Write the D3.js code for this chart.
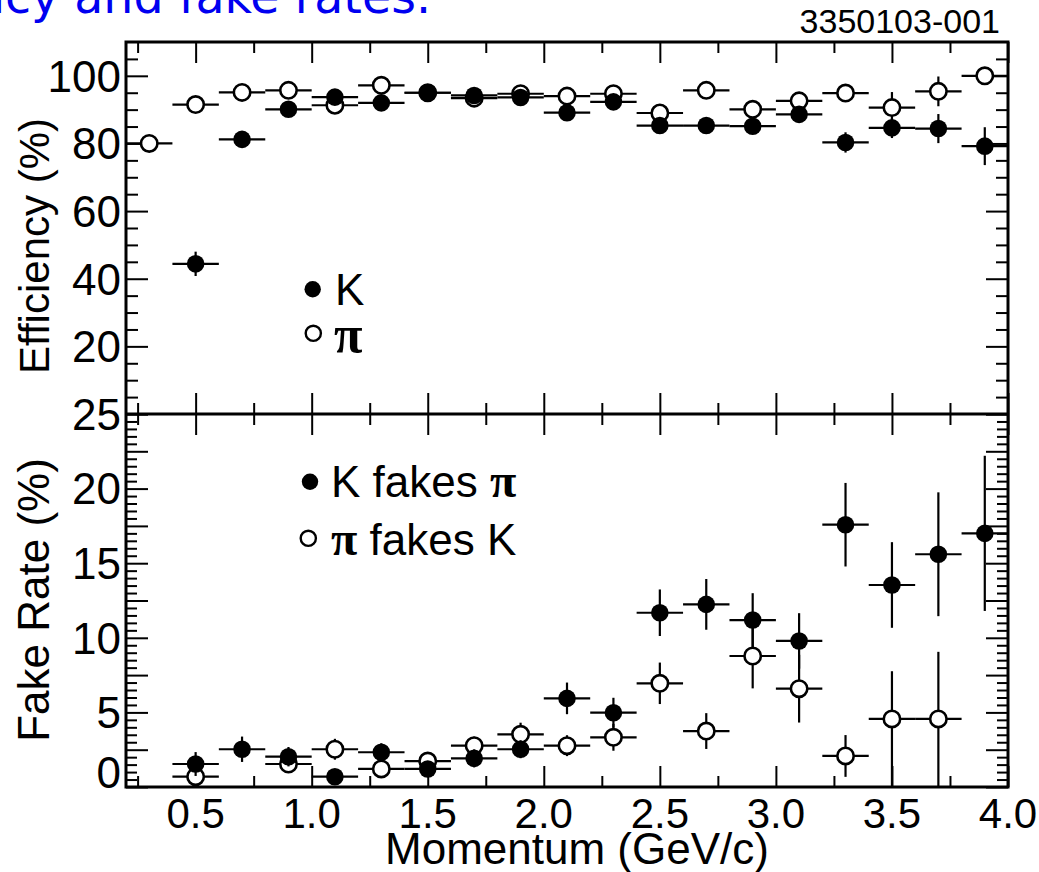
<!DOCTYPE html>
<html><head><meta charset="utf-8">
<script src="https://cdn.jsdelivr.net/npm/d3@7"></script>
<style>
body{margin:0;background:#fff}
svg{display:block;background:#fff}
text{font-family:"Liberation Sans",Arial,Helvetica,sans-serif;fill:#000}
</style>
</head><body>
<svg id="c" width="1039" height="872"></svg>
<script>
// ---- data ----
const momentum = [0.3,0.5,0.7,0.9,1.1,1.3,1.5,1.7,1.9,2.1,2.3,2.5,2.7,2.9,3.1,3.3,3.5,3.7,3.9];
const binHalfWidth = 0.1;

const kEff     = [null,44.4,81.2,90.1,93.7,92.0,95.0,94.2,93.6,89.1,92.3,85.3,85.3,85.1,88.6,80.3,84.6,84.4,79.2];
const kEffErr  = [null,3.6,1.0,1.2,1.0,1.0,1.0,1.0,1.0,1.2,1.2,1.5,1.5,1.8,2.0,3.0,3.0,4.3,5.6];
const piEff    = [80.0,91.5,95.1,95.7,91.3,97.2,95.0,93.4,94.7,94.0,94.7,89.0,95.7,90.1,92.6,94.9,90.6,95.4,100.0];
const piEffErr = [1,1,1,1,1,1,1,1,1,1,1,1.2,1.2,1.5,1.6,1.8,4.6,4.4,2.0];

const kFake     = [null,1.54,2.53,2.03,0.69,2.33,1.21,1.92,2.53,5.94,4.98,11.68,12.24,11.19,9.79,17.58,13.54,15.6,17.0];
const kFakeErr  = [null,0.8,0.85,0.65,0.5,0.6,0.5,0.6,0.6,1.06,1.0,1.56,1.7,1.8,1.86,2.8,2.87,4.15,5.2];
const piFake      = [null,0.69,null,1.54,2.53,1.21,1.74,2.77,3.53,2.77,3.33,6.95,3.75,8.78,6.59,2.08,4.56,4.56,null];
const piFakeErrUp = [null,0.8,null,0.6,0.7,0.5,0.5,0.6,0.78,0.7,0.9,1.39,1.2,2.17,2.27,1.4,3.2,4.5,null];
const piFakeErrDn = [null,0.8,null,0.6,0.7,0.5,0.5,0.6,0.78,0.7,0.9,1.39,1.2,2.17,2.27,1.4,5.0,4.5,null];

const xMajorTicks = [0.5,1.0,1.5,2.0,2.5,3.0,3.5,4.0];
const xMinorTicks = [0.25,0.75,1.25,1.75,2.25,2.75,3.25,3.75];
const xTickLabels = ["0.5","1.0","1.5","2.0","2.5","3.0","3.5","4.0"];
const effLabels  = [100,80,60,40,20];
const fakeLabels = [25,20,15,10,5,0];

const titleText = "Efficiency and fake rates.";
const figId = "3350103-001";

// ---- layout ----
const L = 126, R = 1008, T = 42, MID = 414, B = 787;
const svg = d3.select("#c");
svg.append("rect").attr("width",1039).attr("height",872).attr("fill","#fff");

const x = d3.scaleLinear().domain([0.2,4.0]).range([L,R]);
const yTop = d3.scaleLinear().domain([0,110]).range([MID,T]);
const yBot = d3.scaleLinear().domain([0,25]).range([B,MID]);

const defs = svg.append("defs");
defs.append("clipPath").attr("id","clipTop").append("rect").attr("x",L).attr("y",T).attr("width",R-L).attr("height",MID-T);
defs.append("clipPath").attr("id","clipBot").append("rect").attr("x",L).attr("y",MID).attr("width",R-L).attr("height",B-MID);

// ---- axes ticks ----
function drawTicks(axisGen, transform, size, values){
  const g = svg.append("g").attr("transform",transform)
    .call(axisGen.tickValues(values).tickSize(size).tickFormat(""));
  g.select(".domain").remove();
  g.selectAll(".tick line").attr("stroke","#000").attr("stroke-width",2);
  return g;
}
[[T,"top"],[MID,"bottom"],[MID,"top"],[B,"bottom"]].forEach(([yy,side])=>{
  const gen = side==="top" ? d3.axisTop(x) : d3.axisBottom(x);
  drawTicks(gen, `translate(0,${yy})`, -21, xMajorTicks);
  const gen2 = side==="top" ? d3.axisTop(x) : d3.axisBottom(x);
  drawTicks(gen2, `translate(0,${yy})`, -11, xMinorTicks);
});
const effMajor = d3.range(0,101,20);
const effMinor = d3.range(5,110,5).filter(v=>v%20!==0);
drawTicks(d3.axisLeft(yTop), `translate(${L},0)`, -22, effMajor);
drawTicks(d3.axisLeft(yTop), `translate(${L},0)`, -12, effMinor);
drawTicks(d3.axisRight(yTop), `translate(${R},0)`, -22, effMajor);
drawTicks(d3.axisRight(yTop), `translate(${R},0)`, -12, effMinor);
const fakeMajor = d3.range(0,25.01,2.5);
const fakeMinor = d3.range(0.5,25,0.5).filter(v=>Math.abs(v/2.5-Math.round(v/2.5))>1e-6);
drawTicks(d3.axisLeft(yBot), `translate(${L},0)`, -22, fakeMajor);
drawTicks(d3.axisLeft(yBot), `translate(${L},0)`, -11, fakeMinor);
drawTicks(d3.axisRight(yBot), `translate(${R},0)`, -22, fakeMajor);
drawTicks(d3.axisRight(yBot), `translate(${R},0)`, -11, fakeMinor);

// ---- data drawing ----
const R_MARK = 8.2;
function drawSeries(clipId, yScale, vals, errUp, errDn, filled){
  const g = svg.append("g").attr("clip-path",`url(#${clipId})`);
  const pts = momentum.map((m,i)=>({m, v:vals[i], up:errUp[i], dn:errDn[i]})).filter(d=>d.v!==null);
  g.selectAll("line.h").data(pts).enter().append("line")
    .attr("x1",d=>x(d.m-binHalfWidth)).attr("x2",d=>x(d.m+binHalfWidth))
    .attr("y1",d=>yScale(d.v)).attr("y2",d=>yScale(d.v))
    .attr("stroke","#000").attr("stroke-width",2.2);
  g.selectAll("line.v").data(pts).enter().append("line")
    .attr("x1",d=>x(d.m)).attr("x2",d=>x(d.m))
    .attr("y1",d=>yScale(d.v+d.up)).attr("y2",d=>yScale(d.v-d.dn))
    .attr("stroke","#000").attr("stroke-width",2.2);
  g.selectAll("circle").data(pts).enter().append("circle")
    .attr("cx",d=>x(d.m)).attr("cy",d=>yScale(d.v))
    .attr("r", filled ? R_MARK+0.6 : R_MARK)
    .attr("fill", filled ? "#000" : "#fff")
    .attr("stroke","#000").attr("stroke-width", filled ? 0 : 2.6);
}
drawSeries("clipTop", yTop, piEff, piEffErr, piEffErr, false);
drawSeries("clipTop", yTop, kEff, kEffErr, kEffErr, true);
drawSeries("clipBot", yBot, piFake, piFakeErrUp, piFakeErrDn, false);
drawSeries("clipBot", yBot, kFake, kFakeErr, kFakeErr, true);

// ---- frame ----
svg.append("rect").attr("x",L).attr("y",T).attr("width",R-L).attr("height",B-T)
  .attr("fill","none").attr("stroke","#000").attr("stroke-width",3);
svg.append("line").attr("x1",L).attr("x2",R).attr("y1",MID).attr("y2",MID)
  .attr("stroke","#000").attr("stroke-width",3);

// ---- tick labels ----
const FS = 44;
svg.append("g").selectAll("text").data(effLabels).enter().append("text")
  .attr("x",121).attr("y",d=>yTop(d)).attr("dy","0.36em")
  .attr("text-anchor","end").attr("font-size",FS).text(d=>d);
svg.append("g").selectAll("text").data(fakeLabels).enter().append("text")
  .attr("x",121).attr("y",d=> d===0 ? B-15 : yBot(d)).attr("dy","0.36em")
  .attr("text-anchor","end").attr("font-size",FS).text(d=>d);
svg.append("g").selectAll("text").data(xMajorTicks).enter().append("text")
  .attr("x",d=>x(d)).attr("y",828)
  .attr("text-anchor","middle").attr("font-size",42).text((d,i)=>xTickLabels[i]);

// axis titles
svg.append("text").attr("x",577).attr("y",864).attr("text-anchor","middle")
  .attr("font-size",FS).text("Momentum (GeV/c)");
svg.append("text").attr("transform","translate(49,246) rotate(-90)").attr("text-anchor","middle")
  .attr("font-size",42).text("Efficiency (%)");
svg.append("text").attr("transform","translate(49,600) rotate(-90)").attr("text-anchor","middle")
  .attr("font-size",44).text("Fake Rate (%)");

// ---- legends ----
function legendMarker(cx,cy,filled){
  svg.append("circle").attr("cx",cx).attr("cy",cy).attr("r",filled?8.2:7.6)
    .attr("fill",filled?"#000":"#fff").attr("stroke","#000").attr("stroke-width",filled?0:2.4);
}
const piFont = '"Liberation Serif","DejaVu Serif",serif';
legendMarker(312.7,289.3,true);
svg.append("text").attr("x",335).attr("y",305).attr("font-size",FS).text("K");
legendMarker(313.3,333.3,false);
svg.append("text").attr("x",334).attr("y",352).attr("font-size",52)
  .attr("font-weight","bold").style("font-family",piFont).text("π");

legendMarker(310,481.7,true);
const t1 = svg.append("text").attr("x",331).attr("y",497).attr("font-size",FS);
t1.append("tspan").text("K fakes ");
t1.append("tspan").attr("font-weight","bold").attr("font-size",48).style("font-family",piFont).text("π");
legendMarker(308.3,538.3,false);
const t2 = svg.append("text").attr("x",331).attr("y",555).attr("font-size",FS);
t2.append("tspan").attr("font-weight","bold").attr("font-size",48).style("font-family",piFont).text("π");
t2.append("tspan").text(" fakes K");

// ---- header texts ----
svg.append("text").attr("x",431).attr("y",13).attr("text-anchor","end")
  .attr("font-size",47.5).style("font-family",'"DejaVu Sans","Noto Sans",sans-serif').style("fill","#0000f0")
  .text(titleText);
svg.append("text").attr("x",1000).attr("y",33).attr("text-anchor","end")
  .attr("font-size",34).text(figId);
</script>
</body></html>
